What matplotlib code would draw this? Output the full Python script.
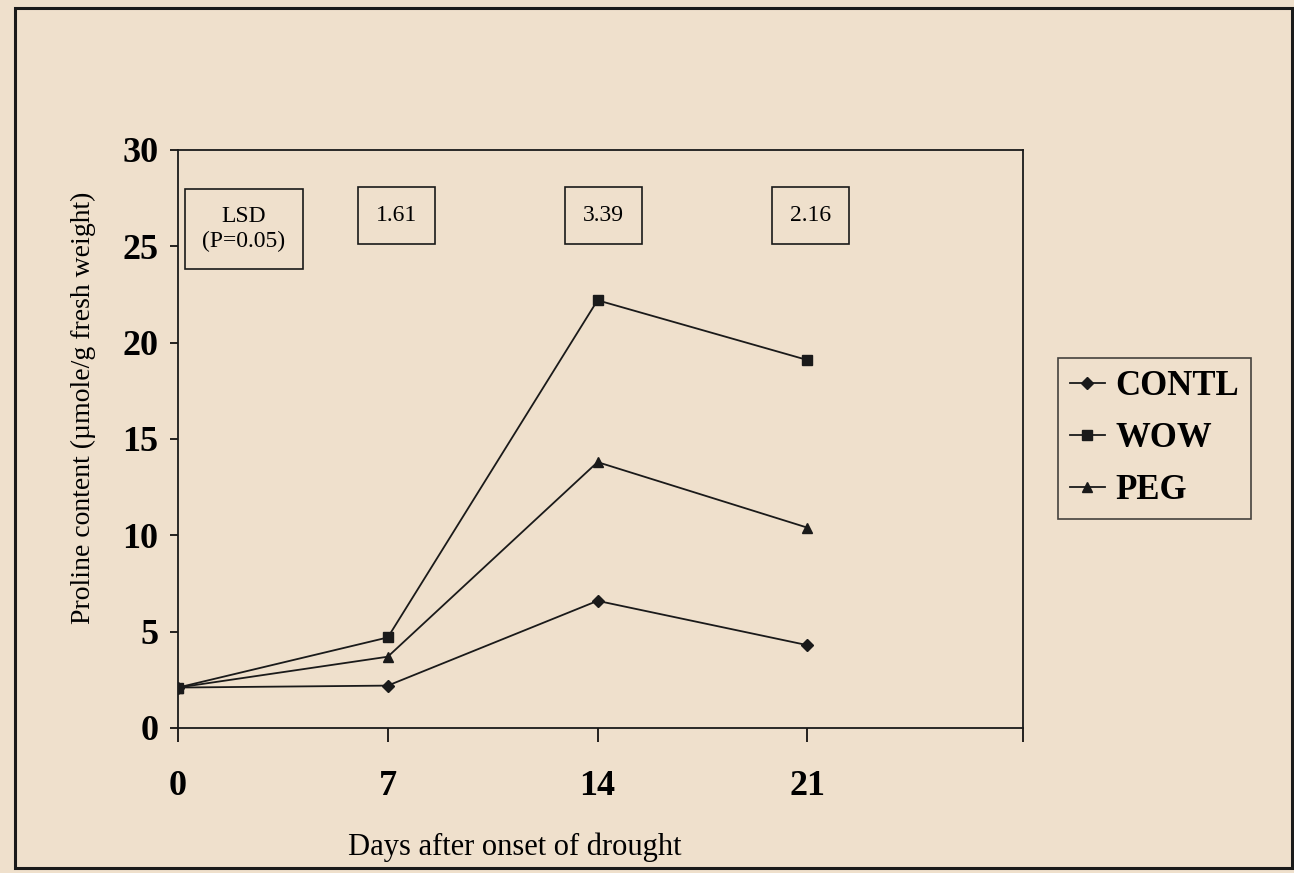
import matplotlib
matplotlib.use("Agg")
import matplotlib.pyplot as plt
from matplotlib.patches import Rectangle

days = [0, 7, 14, 21]
contl = [2.1, 2.2, 6.6, 4.3]
wow = [2.1, 4.7, 22.2, 19.1]
peg = [2.1, 3.7, 13.8, 10.4]
series_names = ["CONTL", "WOW", "PEG"]
lsd_labels = ["LSD\n(P=0.05)", "1.61", "3.39", "2.16"]
lsd_x = [2.2, 7.3, 14.2, 21.1]
lsd_y = [25.9, 26.6, 26.6, 26.6]

bg = "#efe0cc"
plt.rcParams["font.family"] = ["Liberation Serif", "DejaVu Serif"]

fig = plt.figure(figsize=(12.94, 8.73), dpi=100, facecolor=bg)
ax = fig.add_axes([0.1376, 0.1661, 0.6530, 0.6621], facecolor=bg)

ax.plot(days, contl, color="#1a1a1a", lw=1.3, marker="D", ms=6, label=series_names[0])
ax.plot(days, peg, color="#1a1a1a", lw=1.3, marker="^", ms=7.5, label=series_names[2])
ax.plot(days, wow, color="#1a1a1a", lw=1.3, marker="s", ms=7.5, label=series_names[1])

ax.set_xlim(0, 28.2)
ax.set_ylim(0, 30)
ax.set_xticks([0, 7, 14, 21, 28.2])
ax.set_xticklabels(["0", "7", "14", "21", ""])
ax.set_yticks([0, 5, 10, 15, 20, 25, 30])
ax.tick_params(axis="x", direction="out", length=10, width=1.2, pad=20,
               labelsize=26)
ax.tick_params(axis="y", direction="out", length=6, width=1.2, pad=8,
               labelsize=26)
for lab in ax.get_xticklabels() + ax.get_yticklabels():
    lab.set_fontweight("bold")
for sp in ax.spines.values():
    sp.set_linewidth(1.3)
    sp.set_color("#1a1a1a")

ax.set_ylabel("Proline content (µmole/g fresh weight)", fontsize=20)
ax.yaxis.set_label_coords(-0.097, 0.554)
ax.set_xlabel("Days after onset of drought", fontsize=22)
ax.xaxis.set_label_coords((515 - 178) / 845, -0.18)

for txt, x, y in zip(lsd_labels, lsd_x, lsd_y):
    ax.text(x, y, txt, ha="center", va="center", fontsize=17, linespacing=1.2,
            bbox=dict(boxstyle="square,pad=0.75", fc=bg, ec="#1a1a1a", lw=1.2))

handles, labels = ax.get_legend_handles_labels()
order = [0, 2, 1]
leg = fig.legend([handles[i] for i in order], [labels[i] for i in order],
                 loc="center left", bbox_to_anchor=(0.8176, 0.4975),
                 frameon=True, fancybox=False, handlelength=1.0,
                 handletextpad=0.3, borderpad=0.35, labelspacing=0.55,
                 borderaxespad=0, prop={"weight": "bold", "size": 25})
leg.get_frame().set_edgecolor("#1a1a1a")
leg.get_frame().set_facecolor(bg)
leg.get_frame().set_linewidth(1.2)

fig.patches.append(Rectangle((0.0116, 0.0057), 0.9869, 0.9851, transform=fig.transFigure,
                             fill=False, ec="#1a1a1a", lw=2.2))

fig.savefig("out.png", dpi=100, facecolor=bg)
